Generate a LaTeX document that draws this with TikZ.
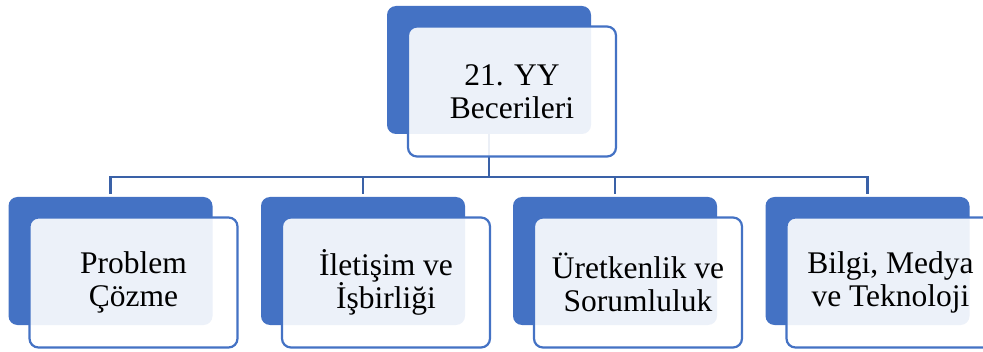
\documentclass[tikz,border=0pt]{standalone}
\usepackage{fontspec}
\setmainfont{Liberation Serif}
\usetikzlibrary{calc}
\definecolor{accent}{HTML}{4472C4}
\definecolor{linkblue}{HTML}{3A61A7}
\begin{document}
\begin{tikzpicture}[x=1pt,y=1pt,
  backbox/.style={fill=accent, draw=none, rounded corners=9pt,
    minimum width=204pt, minimum height=128pt, inner sep=0pt},
  frontbox/.style={fill=white, fill opacity=0.9, text opacity=1,
    draw=accent, line width=2.2pt, rounded corners=9pt,
    minimum width=208pt, minimum height=130pt, inner sep=0pt,
    align=center, font=\fontsize{31.5}{33}\selectfont},
  link/.style={draw=linkblue, line width=2.2pt}]
\useasboundingbox (0,0) rectangle (983,351);
% coloured back plates
\node[backbox] (b0) at (489,281) {};
\node[backbox] (b1) at (110.5,90) {};
\node[backbox] (b2) at (363,90) {};
\node[backbox] (b3) at (615,90) {};
\node[backbox] (b4) at (867.5,90) {};
% hierarchy connectors
\coordinate (bus) at (489,174);
\draw[link] (b0.south) -- (bus);
\draw[link, shorten <=3pt] (b1.north) |- (bus);
\draw[link, shorten <=3pt] (b4.north) |- (bus);
\draw[link, shorten <=3pt] (b2.north) -- (b2.north |- bus);
\draw[link, shorten <=3pt] (b3.north) -- (b3.north |- bus);
% translucent text cards
\node[frontbox] (t0) at ($(b0)+(23,-21.5)$) {21. YY\\Becerileri};
\node[frontbox] (t1) at ($(b1)+(23,-21.5)$) {Problem\\Çözme};
\node[frontbox] (t2) at ($(b2)+(23,-21.5)$) {İletişim ve\\İşbirliği};
\node[frontbox] (t3) at ($(b3)+(23,-21.5)$) {Üretkenlik ve\\Sorumluluk};
\node[frontbox] (t4) at ($(b4)+(23,-21.5)$) {Bilgi, Medya\\ve Teknoloji};
\end{tikzpicture}
\end{document}
